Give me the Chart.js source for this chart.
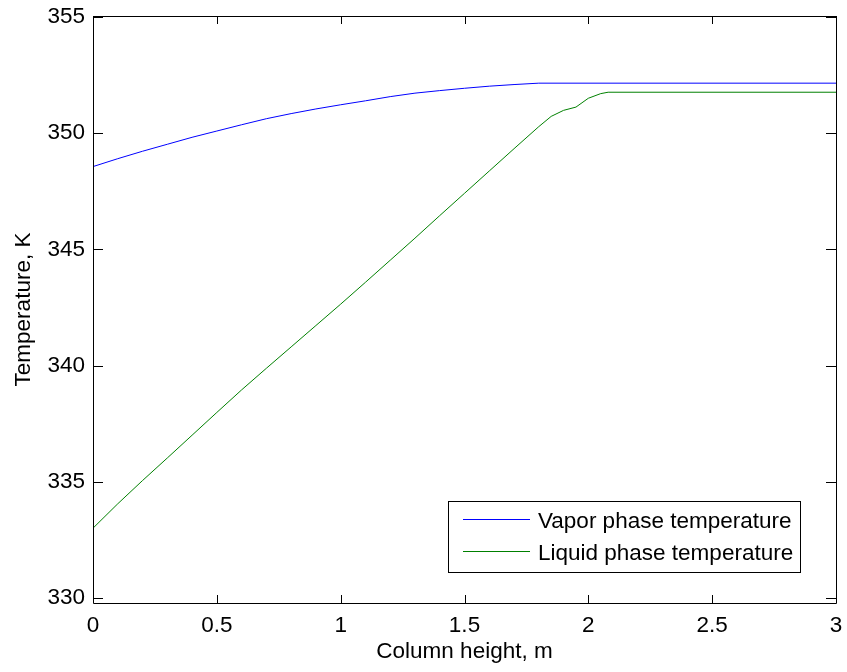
<!DOCTYPE html>
<html>
<head>
<meta charset="utf-8">
<script src="https://cdn.jsdelivr.net/npm/chart.js@4/dist/chart.umd.min.js"></script>
<style>
html,body{margin:0;padding:0;background:#fff;}
#wrap{width:847px;height:672px;position:relative;}
</style>
</head>
<body>
<div id="wrap"><canvas id="tempChart" width="847" height="672"></canvas></div>
<script>
/* ── DATA ── */
var vaporH=[0,0.1,0.2,0.3,0.4,0.5,0.6,0.7,0.8,0.9,1.0,1.1,1.2,1.3,1.4,1.5,1.6,1.7,1.8,3.0];
var vaporT=[348.56,348.90,349.22,349.52,349.82,350.09,350.36,350.62,350.84,351.04,351.22,351.39,351.57,351.72,351.83,351.93,352.02,352.09,352.15,352.15];
var liquidH=[0,0.1,0.2,0.3,0.4,0.5,0.6,0.7,0.8,0.9,1.0,1.1,1.2,1.3,1.4,1.5,1.6,1.7,1.8,1.85,1.9,1.95,2.0,2.05,2.08,3.0];
var liquidT=[333.00,334.05,335.05,336.02,337.00,337.98,338.95,339.88,340.80,341.72,342.64,343.58,344.53,345.48,346.45,347.41,348.37,349.33,350.28,350.72,350.98,351.12,351.50,351.70,351.76,351.76];
var xTicks=[0,0.5,1,1.5,2,2.5,3];
var yTicks=[330,335,340,345,350,355];
var seriesNames=['Vapor phase temperature','Liquid phase temperature'];
var seriesColors=['#0000ff','#008000'];

function pts(xs,ys){return xs.map(function(x,i){return {x:x,y:ys[i]};});}

var FONT='"Liberation Sans", Arial, sans-serif';

/* ── FRAME + INWARD TICKS (matlab style) ── */
var framePlugin={
  id:'frame',
  afterDraw:function(chart){
    var c=chart.ctx,a=chart.chartArea,xs=chart.scales.x,ys=chart.scales.y;
    c.save();
    c.strokeStyle='#000';c.lineWidth=1;
    c.beginPath();
    c.rect(Math.round(a.left)+0.5,Math.round(a.top)+0.5,Math.round(a.right-a.left),Math.round(a.bottom-a.top));
    c.stroke();
    c.beginPath();
    xTicks.forEach(function(v){
      var px=Math.round(xs.getPixelForValue(v))+0.5;
      c.moveTo(px,a.bottom);c.lineTo(px,a.bottom-8);
      c.moveTo(px,a.top);c.lineTo(px,a.top+8);
    });
    yTicks.forEach(function(v){
      var py=Math.round(ys.getPixelForValue(v))+0.5;
      c.moveTo(a.left,py);c.lineTo(a.left+10,py);
      c.moveTo(a.right,py);c.lineTo(a.right-10,py);
    });
    c.stroke();
    c.restore();
  }
};

/* ── LEGEND BOX (inside axes, lower right) ── */
var legendPlugin={
  id:'boxLegend',
  afterDraw:function(chart){
    var c=chart.ctx;
    var bx=448,by=501,bw=352,bh=71;
    c.save();
    c.fillStyle='#fff';c.fillRect(bx,by,bw,bh);
    c.strokeStyle='#000';c.lineWidth=1;
    c.strokeRect(bx+0.5,by+0.5,bw,bh);
    c.font='22.5px '+FONT;c.textBaseline='middle';c.textAlign='left';
    chart.data.datasets.forEach(function(ds,i){
      var ly=519+i*32;
      c.strokeStyle=ds.borderColor;c.lineWidth=1;
      c.beginPath();c.moveTo(463,ly+0.5);c.lineTo(530,ly+0.5);c.stroke();
      c.fillStyle='#000';
      c.fillText(ds.label,538,ly+3);
    });
    c.restore();
  }
};

new Chart(document.getElementById('tempChart').getContext('2d'),{
  type:'line',
  data:{
    datasets:[
      {label:seriesNames[0],data:pts(vaporH,vaporT),borderColor:seriesColors[0],borderWidth:1,pointRadius:0,tension:0,fill:false},
      {label:seriesNames[1],data:pts(liquidH,liquidT),borderColor:seriesColors[1],borderWidth:1,pointRadius:0,tension:0,fill:false}
    ]
  },
  options:{
    responsive:false,animation:false,devicePixelRatio:1,
    layout:{padding:{top:16,right:11,left:0,bottom:0}},
    plugins:{legend:{display:false},tooltip:{enabled:false}},
    scales:{
      x:{type:'linear',min:0,max:3,
        afterFit:function(s){s.height=69;s.paddingRight=0;s.paddingLeft=0;},
        afterBuildTicks:function(s){s.ticks=xTicks.map(function(v){return {value:v};});},
        grid:{display:false,drawTicks:false},border:{display:false},
        ticks:{padding:9,color:'#000',font:{family:FONT,size:22.5},maxRotation:0,autoSkip:false,callback:function(v){return String(v);}},
        title:{display:true,text:'Column height, m',color:'#000',font:{family:FONT,size:22.5},padding:{top:0,bottom:7}}
      },
      y:{type:'linear',min:329.78,max:355.04,
        afterFit:function(s){s.width=93;s.paddingTop=0;s.paddingBottom=0;},
        afterBuildTicks:function(s){s.ticks=yTicks.map(function(v){return {value:v};});},
        grid:{display:false,drawTicks:false},border:{display:false},
        ticks:{padding:8,color:'#000',font:{family:FONT,size:22.5},autoSkip:false,callback:function(v){return String(v);}},
        title:{display:true,text:'Temperature, K',color:'#000',font:{family:FONT,size:22.5},padding:{top:10,bottom:0}}
      }
    }
  },
  plugins:[framePlugin,legendPlugin]
});
</script>
</body>
</html>
